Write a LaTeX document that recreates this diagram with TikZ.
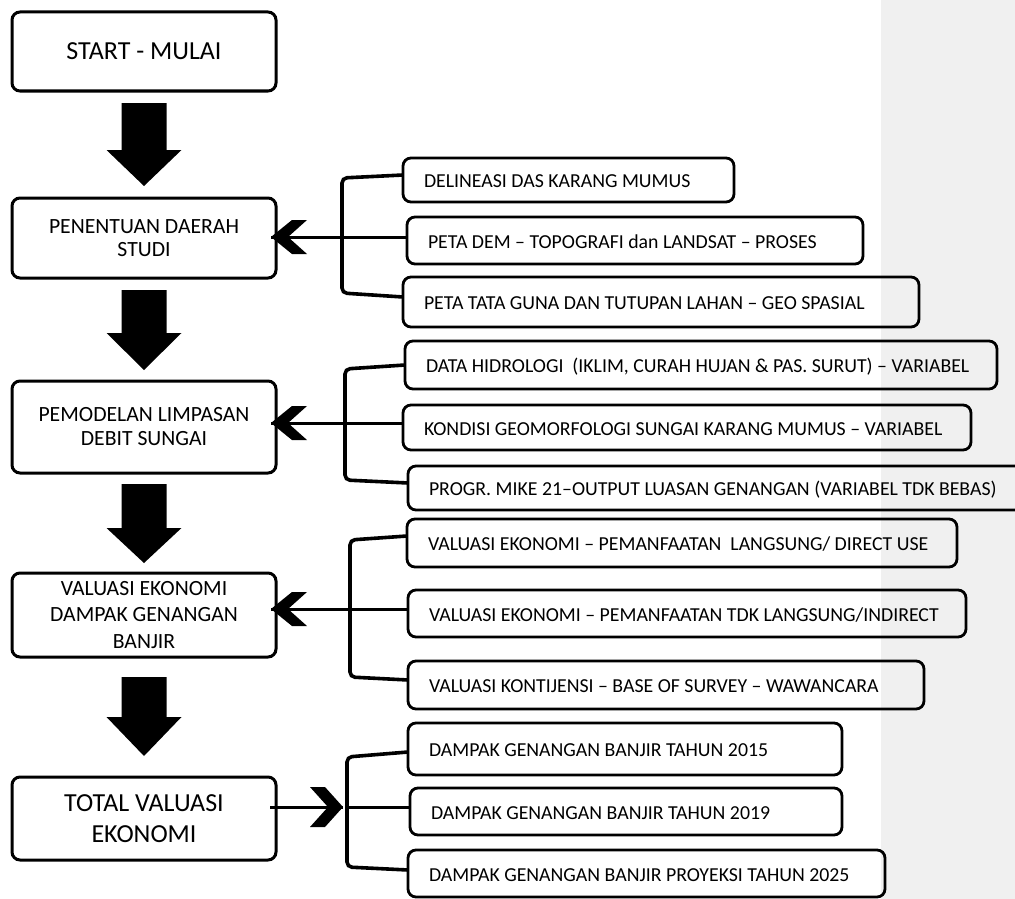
\documentclass[tikz,border=0pt]{standalone}
\usepackage{fontspec}
\setmainfont{Carlito}
\usetikzlibrary{arrows.meta,calc}
\definecolor{margingray}{HTML}{F0F0F0}
% right-hand boxes: x1 y1 x2 y2 name text
\newcommand\rboxat[6]{%
  \pgfmathsetmacro\rbw{#3-#1}\pgfmathsetmacro\rbh{#4-#2}\pgfmathsetmacro\rbt{#3-#1-42}%
  \node[rbox, minimum width=\rbw pt, minimum height=\rbh pt] (#5) at (#1,#2) {\makebox[\rbt pt][l]{#6}};}
% left-hand boxes: y1 y2 name font text
\newcommand\lboxat[5]{%
  \node[lbox, minimum height=#2-#1, font=#4] (#3) at (144,{(#1+#2)/2}) {#5};}
% block arrow between two left boxes: from, to, top gap, head length, tip gap
\newcommand\bigarrow[5]{%
  \fill[black] let \p1=(#1.south), \p2=(#2.north) in
    (\x1-22.5pt,\y1-#3pt) -- (\x1+22.5pt,\y1-#3pt) -- (\x1+22.5pt,\y2+#5pt+#4pt)
    -- (\x1+37.5pt,\y2+#5pt+#4pt) -- (\x1,\y2+#5pt) -- (\x1-37.5pt,\y2+#5pt+#4pt)
    -- (\x1-22.5pt,\y2+#5pt+#4pt) -- cycle;}
\begin{document}
\begin{tikzpicture}[x=1pt,y=-1pt,
  lbox/.style={draw, line width=3pt, rounded corners=8pt, minimum width=264, align=center,
    inner sep=0pt, outer sep=0pt},
  rbox/.style={draw, line width=2.8pt, rounded corners=8pt, anchor=north west,
    inner xsep=21pt, inner ysep=0pt, outer sep=0pt, text height=15.6pt, text depth=0pt,
    font=\fontsize{19.8}{23}\selectfont},
  conn/.style={line width=3pt},
  brk/.style={line width=3.6pt, rounded corners=5pt},
  lchev/.pic={\fill (0,0) -- (21,-17) -- (36,-17) -- (17,0) -- (36,17) -- (21,17) -- cycle;},
  rchev/.pic={\fill (0,0) -- (-18,-20) -- (-33,-20) -- (-15,0) -- (-33,20) -- (-18,20) -- cycle;}
]
\useasboundingbox (0,0) rectangle (1015,899);
\fill[margingray] (881,0) rectangle (1015,899);

% left column
\lboxat{12}{91}{start}{\fontsize{26}{31}\selectfont}{START - MULAI}
\lboxat{198}{278}{pen}{\fontsize{21.7}{23.5}\selectfont}{PENENTUAN DAERAH\\STUDI}
\lboxat{381}{473}{pem}{\fontsize{21.7}{24}\selectfont}{PEMODELAN LIMPASAN\\DEBIT SUNGAI}
\lboxat{573}{657}{val}{\fontsize{21.7}{26.5}\selectfont}{VALUASI EKONOMI\\DAMPAK GENANGAN\\BANJIR}
\lboxat{777}{860}{tot}{\fontsize{26}{31.7}\selectfont}{TOTAL VALUASI\\EKONOMI}

\bigarrow{start}{pen}{12}{36}{12}
\bigarrow{pen}{pem}{12}{37}{11}
\bigarrow{pem}{val}{11}{35}{10}
\bigarrow{val}{tot}{20}{39}{21}

% right column
\rboxat{403}{158}{734}{202}{del}{DELINEASI DAS KARANG MUMUS}
\rboxat{407}{217}{863}{264}{dem}{PETA DEM – TOPOGRAFI dan LANDSAT – PROSES}
\rboxat{403}{277}{919}{327}{tata}{PETA TATA GUNA DAN TUTUPAN LAHAN – GEO SPASIAL}
\rboxat{405}{341}{997}{389}{hid}{DATA HIDROLOGI \ (IKLIM, CURAH HUJAN \& PAS. SURUT) – VARIABEL}
\rboxat{403}{405}{971}{450}{kon}{KONDISI GEOMORFOLOGI SUNGAI KARANG MUMUS – VARIABEL}
\rboxat{408}{466}{1030}{510}{mik}{PROGR. MIKE 21–OUTPUT LUASAN GENANGAN (VARIABEL TDK BEBAS)}
\rboxat{407}{519}{957}{567}{dir}{VALUASI EKONOMI – PEMANFAATAN \ LANGSUNG/ DIRECT USE}
\rboxat{408}{590}{966}{637}{ind}{VALUASI EKONOMI – PEMANFAATAN TDK LANGSUNG/INDIRECT}
\rboxat{408}{661}{924}{709}{kts}{VALUASI KONTIJENSI – BASE OF SURVEY – WAWANCARA}
\rboxat{408}{723}{842}{775}{d15}{DAMPAK GENANGAN BANJIR TAHUN 2015}
\rboxat{410}{788}{842}{835}{d19}{DAMPAK GENANGAN BANJIR TAHUN 2019}
\rboxat{408}{850}{885}{897}{d25}{DAMPAK GENANGAN BANJIR PROYEKSI TAHUN 2025}

% group 1
\draw[brk] ([yshift=5pt]del.west) -- (342,178) -- (342,293) -- ([yshift=5pt]tata.west);
\coordinate (m1) at ([yshift=3.5pt]dem.west);
\coordinate (t1) at ($(pen.east |- m1)+(-5,0)$);
\draw[conn] (m1) -- (t1);
\pic at (t1) {lchev};
% group 2
\draw[brk] (hid.west) -- (345,369) -- (345,480) -- ([yshift=5pt]mik.west);
\coordinate (m2) at ([yshift=4.5pt]kon.west);
\coordinate (t2) at ($(pem.east |- m2)+(-5,0)$);
\draw[conn] (m2) -- (t2);
\pic at (t2) {lchev};
% group 3
\draw[brk] ([yshift=7pt]dir.west) -- (350,540) -- (350,677) -- ([yshift=5pt]kts.west);
\coordinate (m3) at ([yshift=4.5pt]ind.west);
\coordinate (t3) at ($(val.east |- m3)+(-5,0)$);
\draw[conn] (m3) -- (t3);
\pic at (t3) {lchev};
% group 4
\draw[brk] ([yshift=-3pt]d15.west) -- (347,757) -- (347,867) -- ([yshift=3.5pt]d25.west);
\coordinate (m4) at ([yshift=4.5pt]d19.west);
\coordinate (b4) at (347,807);
\coordinate (t4) at ($(b4)+(-4,0)$);
\draw[conn] (b4) -- (m4);
\draw[conn] ($(tot.east |- m4)+(-6,0)$) -- (t4);
\pic at (t4) {rchev};
\end{tikzpicture}
\end{document}
